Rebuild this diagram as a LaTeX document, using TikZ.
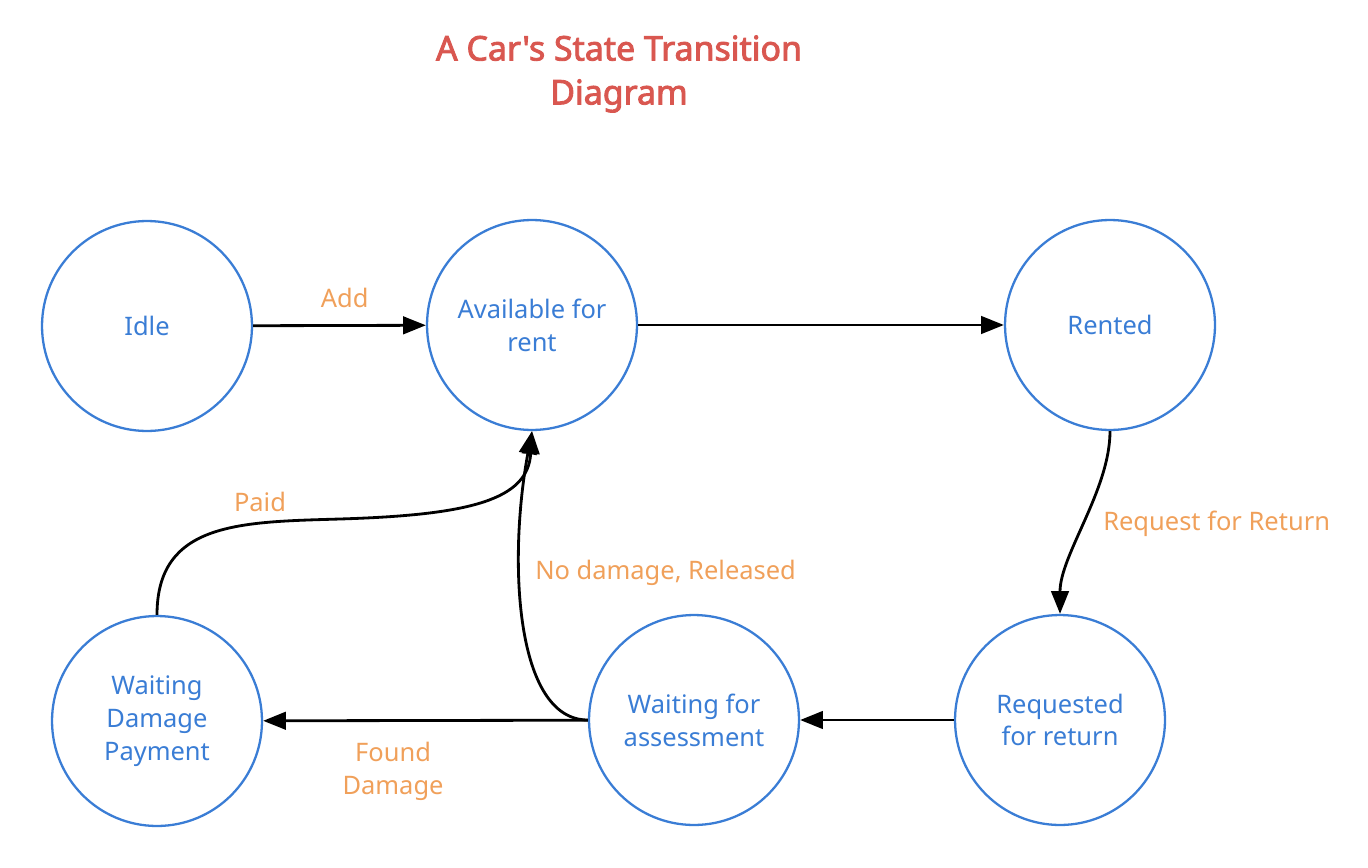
\documentclass[tikz,border=0pt]{standalone}
\usepackage{fontspec}
\setmainfont{Noto Sans}
\newfontfamily\titlefont{Noto Sans}[AutoFakeBold=2.6,Ligatures=TeXOff]
\usepackage{xcolor}
\usepackage{tikz}
\usetikzlibrary{positioning}
\usetikzlibrary{arrows.meta}

\definecolor{stateblue}{RGB}{58,125,213}
\definecolor{labelorange}{RGB}{240,160,90}
\definecolor{titlered}{RGB}{217,87,80}

\begin{document}
\begin{tikzpicture}[x=0.02cm,y=-0.02cm,
  state/.style={circle,draw=stateblue,line width=1.3pt,minimum size=4.2cm,inner sep=0pt,
    align=center,text=stateblue,font=\fontsize{14.5}{18.7}\selectfont},
  lbl/.style={text=labelorange,font=\fontsize{14.5}{18.7}\selectfont,align=center},
  ->,>={Triangle[length=13pt,width=10pt]},line width=1.6pt]
\useasboundingbox (0,0) rectangle (1368,868);

\node[titlered,font=\titlefont\fontsize{19.3}{25}\selectfont\bfseries,align=center] (title) at (619,74)
  {A Car's State Transition\\Diagram};

\node[state]   (I)  at (147,326)  {Idle};
\node[state]   (AV) at (532,325)  {Available for\\rent};
\node[state]   (R)  at (1110,325) {Rented};
\node[state]   (RQ) at (1060,720) {Requested\\for return};
\node[state]   (WA) at (694,720)  {Waiting for\\assessment};
\node[state]   (WP) at (157,721)  {Waiting\\Damage\\Payment};

\path (I)   edge node[lbl,above=6pt,pos=0.53] {Add} (AV)
      (AV)  edge (R)
      (RQ)  edge (WA)
      (WA)  edge node[lbl,below=8pt,pos=0.6] {Found\\Damage} (WP);

\draw (R.south) .. controls (1110,490) and (1060,555) .. (RQ.north);
\node[lbl,anchor=west] (rr) at (1096,524) {Request for Return};

\draw (WA.west) .. controls (515,720) and (508,560) .. (AV.south);
\node[lbl,anchor=west] (nd) at (528,573) {No damage, Released};

\draw (WP.north) .. controls (157,522) and (240,522) .. (340,519)
      .. controls (470,515) and (528,500) .. (AV.south);
\node[lbl] (pd) at (260,502) {Paid};

\end{tikzpicture}
\end{document}
